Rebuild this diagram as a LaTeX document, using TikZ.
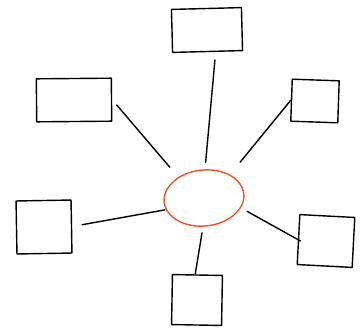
\documentclass[tikz,border=0pt]{standalone}
\usetikzlibrary{shapes.geometric}
\definecolor{hub}{RGB}{234,84,40}
\begin{document}
\begin{tikzpicture}[x=1pt,y=-1pt,
  sketch/.style={line width=1.4pt,line cap=round,line join=round},
  box/.style={sketch,draw,rectangle,inner sep=0pt},
  conn/.style={sketch,draw}]
\useasboundingbox (0,0) rectangle (361,330);
\node[sketch,draw=hub,ellipse,minimum width=80pt,minimum height=56pt,inner sep=0pt,rotate=6] (ell) at (204,198) {};
\node[box,minimum width=70pt,minimum height=43pt,rotate=1.5] (top) at (207,30) {};
\node[box,minimum width=75pt,minimum height=43pt,rotate=0.5] (tl) at (74,100) {};
\node[box,minimum width=47pt,minimum height=42pt,rotate=-2] (tr) at (315,101) {};
\node[box,minimum width=55pt,minimum height=53pt,rotate=1] (lf) at (44,227) {};
\node[box,minimum width=55pt,minimum height=50pt,rotate=-3] (rt) at (326,241) {};
\node[box,minimum width=50pt,minimum height=50pt,rotate=-1] (bt) at (197,300) {};
\draw[conn,shorten <=7pt,shorten >=8pt] (ell.82) -- (top.-70);
\draw[conn,shorten <=13pt,shorten >=7pt] (ell.135) -- (tl.east);
\draw[conn,shorten <=16pt] (ell.36) -- (tr.west);
\draw[conn,shorten <=1pt,shorten >=10pt] (ell.191) -- (lf.east);
\draw[conn,shorten <=7pt,shorten >=-3pt] (ell.-21) -- (rt.west);
\draw[conn,shorten <=6pt] (ell.-98) -- (bt.95);
\end{tikzpicture}
\end{document}
